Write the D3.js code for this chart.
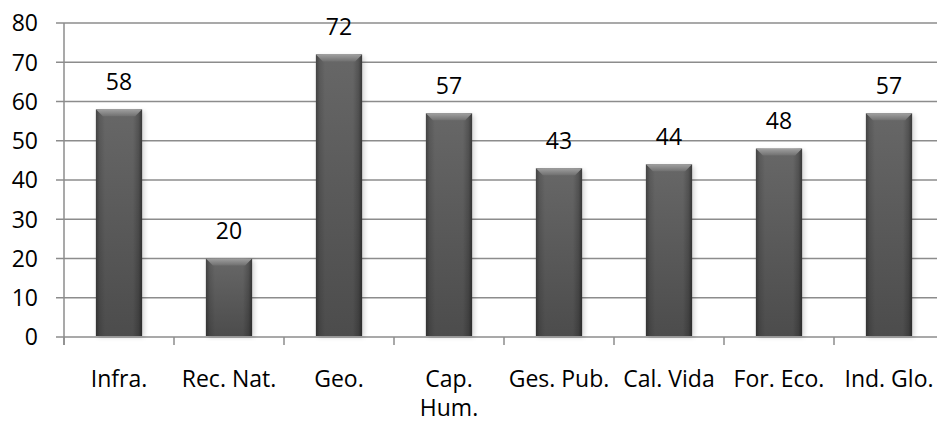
<!DOCTYPE html>
<html>
<head>
<meta charset="utf-8">
<script src="https://cdn.jsdelivr.net/npm/d3@7"></script>
<style>
  html, body { margin: 0; padding: 0; background: #fff; }
  svg { display: block; }
  text { font-family: "Open Sans", "Liberation Sans", sans-serif; fill: #000; }
</style>
</head>
<body>
<svg id="chart" width="937" height="424"></svg>
<script>
// Category names (a "\n" marks a forced line break in the axis label)
const categories = ["Infra.", "Rec. Nat.", "Geo.", "Cap.\nHum.", "Ges. Pub.", "Cal. Vida", "For. Eco.", "Ind. Glo."];
// Score for each category
const values = [58, 20, 72, 57, 43, 44, 48, 57];
// Value axis ticks
const yTicks = [0, 10, 20, 30, 40, 50, 60, 70, 80];

const svg = d3.select("#chart");
const plotLeft = 64, plotTop = 23, plotBottom = 337, step = 110;
const plotRight = plotLeft + step * categories.length;
const fontSize = 23;

const y = d3.scaleLinear().domain([0, 80]).range([plotBottom, plotTop]);
const band = d3.scaleBand().domain(categories).range([plotLeft, plotRight]);
const x = d3.scaleBand().domain(categories).range([plotLeft, plotRight])
  .paddingInner(0.58).paddingOuter(0.29);

const defs = svg.append("defs");
const vg = defs.append("linearGradient").attr("id", "barV").attr("x1", 0).attr("y1", 0).attr("x2", 0).attr("y2", 1);
vg.append("stop").attr("offset", 0).attr("stop-color", "#676767");
vg.append("stop").attr("offset", 1).attr("stop-color", "#4c4c4c");
const hg = defs.append("linearGradient").attr("id", "barH").attr("x1", 0).attr("y1", 0).attr("x2", 1).attr("y2", 0);
hg.append("stop").attr("offset", 0).attr("stop-color", "#000").attr("stop-opacity", 0.35);
hg.append("stop").attr("offset", 0.08).attr("stop-color", "#000").attr("stop-opacity", 0.12);
hg.append("stop").attr("offset", 0.2).attr("stop-color", "#000").attr("stop-opacity", 0);
hg.append("stop").attr("offset", 0.8).attr("stop-color", "#000").attr("stop-opacity", 0);
hg.append("stop").attr("offset", 0.92).attr("stop-color", "#000").attr("stop-opacity", 0.18);
hg.append("stop").attr("offset", 1).attr("stop-color", "#000").attr("stop-opacity", 0.45);
const bg = defs.append("linearGradient").attr("id", "bevel").attr("x1", 0).attr("y1", 0).attr("x2", 0).attr("y2", 1);
bg.append("stop").attr("offset", 0).attr("stop-color", "#a0a0a0");
bg.append("stop").attr("offset", 1).attr("stop-color", "#707070");
const sh = defs.append("filter").attr("id", "shadow").attr("x", "-20%").attr("y", "-5%").attr("width", "140%").attr("height", "110%");
sh.append("feGaussianBlur").attr("stdDeviation", 2.5);

// Horizontal gridlines, extending left past the axis as tick marks
svg.append("g").selectAll("line").data(yTicks).join("line")
  .attr("x1", plotLeft - 8).attr("x2", 937)
  .attr("y1", d => y(d)).attr("y2", d => y(d))
  .attr("stroke", "#8c8c8c").attr("stroke-width", 1.5);

// Value axis line
svg.append("line").attr("x1", plotLeft).attr("x2", plotLeft).attr("y1", plotTop).attr("y2", plotBottom + 8)
  .attr("stroke", "#8c8c8c").attr("stroke-width", 1.5);

// Category tick marks at band boundaries
svg.append("g").selectAll("line").data(categories).join("line")
  .attr("x1", d => band(d)).attr("x2", d => band(d))
  .attr("y1", plotBottom).attr("y2", plotBottom + 8)
  .attr("stroke", "#8c8c8c").attr("stroke-width", 1.5);

// Value tick labels
svg.append("g").selectAll("text").data(yTicks).join("text")
  .attr("x", 38).attr("y", d => y(d)).attr("dy", "0.36em")
  .attr("text-anchor", "end").attr("font-size", fontSize)
  .text(d => d);

// Bars
const bars = svg.append("g").selectAll("g").data(values).join("g");
const bw = x.bandwidth();
bars.append("rect")
  .attr("x", (d, i) => x(categories[i]) + 2).attr("y", d => y(d) + 2)
  .attr("width", bw).attr("height", d => plotBottom - y(d) - 2)
  .attr("fill", "#000").attr("opacity", 0.18).attr("filter", "url(#shadow)");
bars.append("rect")
  .attr("x", (d, i) => x(categories[i])).attr("y", d => y(d))
  .attr("width", bw).attr("height", d => plotBottom - 1 - y(d))
  .attr("fill", "url(#barV)");
bars.append("rect")
  .attr("x", (d, i) => x(categories[i])).attr("y", d => y(d))
  .attr("width", bw).attr("height", d => plotBottom - 1 - y(d))
  .attr("fill", "url(#barH)");
const bev = 7;
bars.append("path")
  .attr("d", (d, i) => {
    const x0 = x(categories[i]), x1 = x0 + bw, t = y(d);
    return `M${x0},${t}L${x1},${t}L${x1 - bev},${t + bev}L${x0 + bev},${t + bev}Z`;
  })
  .attr("fill", "url(#bevel)");

// Value labels above bars
svg.append("g").selectAll("text").data(values).join("text")
  .attr("x", (d, i) => x(categories[i]) + bw / 2)
  .attr("y", d => y(d) - 19.5)
  .attr("text-anchor", "middle").attr("font-size", fontSize)
  .text(d => d);

// Category labels
const cl = svg.append("g").selectAll("text").data(categories).join("text")
  .attr("x", d => band(d) + band.bandwidth() / 2)
  .attr("y", 387)
  .attr("text-anchor", "middle").attr("font-size", fontSize);
cl.each(function(d) {
  const t = d3.select(this);
  d.split("\n").forEach((line, k) => {
    t.append("tspan").attr("x", band(d) + band.bandwidth() / 2)
      .attr("dy", k === 0 ? 0 : 29).text(line);
  });
});
</script>
</body>
</html>
